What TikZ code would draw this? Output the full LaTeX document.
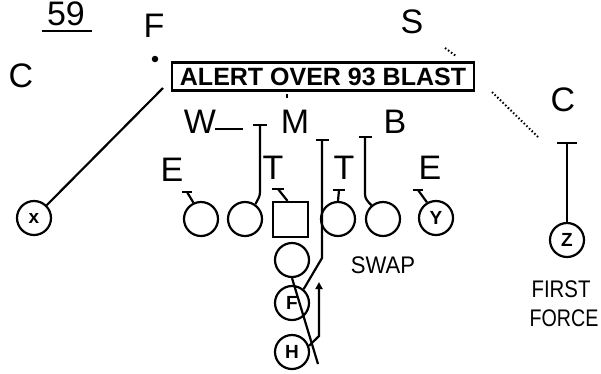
\documentclass[tikz,border=0pt]{standalone}
\usepackage{fontspec}
\setmainfont{Liberation Sans}
\usetikzlibrary{arrows.meta}
\begin{document}
\begin{tikzpicture}[x=1pt,y=-1pt, line width=2.2pt,
  lbl/.style={inner sep=0pt, font=\fontsize{34}{36}\selectfont},
  plr/.style={circle, draw, line width=2.2pt, minimum size=34pt, inner sep=0pt, font=\bfseries\fontsize{19}{20}\selectfont},
  dotline/.style={line width=2pt, dash pattern=on 1.5pt off 2.2pt},
  sm/.style={inner sep=0pt, font=\fontsize{24}{26}\selectfont}]
\useasboundingbox (0,0) rectangle (601,373);
% labels
\node[lbl] (n59) at (66,14) {59};
\draw (42,31) -- (92,31);
\node[lbl] (F) at (154,26) {F};
\node[lbl] (Cl) at (21,76) {C};
\node[lbl] (S) at (412,22) {S};
\node[lbl] (Cr) at (563,100) {C};
\node[lbl] (W) at (200,122) {W};
\node[lbl] (M) at (295,122) {M};
\node[lbl] (B) at (395,122) {B};
\node[lbl] (El) at (172,170) {E};
\node[lbl] (Tl) at (273,168) {T};
\node[lbl] (Tr) at (344,168) {T};
\node[lbl] (Er) at (430,168) {E};
\node[circle, fill, inner sep=0pt, minimum size=6.5pt] (Fdot) at (155,59) {};
% safety dotted
\coordinate (s1) at (445,48); \coordinate (s2) at (456,56);
\coordinate (s3) at (492,92); \coordinate (s4) at (538,137);
\draw[dotline] (s1) -- (s2);
\draw[dotline] (s3) -- (s4);
% call box
\node[draw, line width=2.4pt, fill=white, minimum width=302pt, minimum height=28pt, inner sep=0pt,
  font=\bfseries\fontsize{25}{28}\selectfont] (alert) at (323,76.5) {ALERT OVER 93 BLAST};
\coordinate (mk1) at (287,94); \coordinate (mk2) at (287,98);
\draw[line width=1.5pt] (mk1) -- (mk2);
% players
\node[plr] (X) at (34,218) {x};
\node[plr] (LT) at (201,219) {};
\node[plr] (LG) at (245,219) {};
\node[draw, line width=2.2pt, minimum size=35pt, inner sep=0pt] (Cn) at (290.5,219.5) {};
\node[plr] (RG) at (338,219) {};
\node[plr] (RT) at (383,219) {};
\node[plr] (Y) at (436,218) {Y};
\node[plr] (QB) at (292,260) {};
\node[plr] (FB) at (292,303) {F};
\node[plr] (H) at (292,352) {H};
\node[plr] (Z) at (567,240) {Z};
% routes
\coordinate (xe) at (163,88);
\draw (X) -- (xe);
\coordinate (wd1) at (215,129); \coordinate (wd2) at (243,129);
\draw (wd1) -- (wd2);
\coordinate (lgt) at (260,125);
\draw (LG.55) to[out=65,in=-90] (260,192) -- (lgt);
\draw (lgt) ++(-7,0) -- ++(14,0);
\coordinate (ltm) at (187,192);
\draw (LT.115) -- (ltm);
\draw (ltm) ++(-5,0) -- ++(10,0);
\coordinate (cm) at (278,189);
\draw ([xshift=-3pt]Cn.north) -- (cm);
\draw (cm) ++(-6,0) -- ++(12,0);
\coordinate (rgm) at (339,190);
\draw (RG.north) -- (rgm);
\draw (rgm) ++(-6,0) -- ++(12,0);
\coordinate (ym) at (418,190);
\draw (Y.120) -- (ym);
\draw (ym) ++(-5,0) -- ++(10,0);
\coordinate (rtt) at (365,137);
\draw (RT.130) to[out=135,in=-90] (365,194) -- (rtt);
\draw (rtt) ++(-6.5,0) -- ++(13,0);
\coordinate (fbk) at (322,258); \coordinate (fbt) at (322,140);
\draw (FB.50) -- (fbk) -- (fbt);
\draw (fbt) ++(-6.5,0) -- ++(13,0);
\coordinate (qh) at (318,364);
\draw (QB.south) -- (qh);
\coordinate (hk) at (319,336); \coordinate (ha) at (319,282);
\draw[-{Triangle[length=7pt,width=7pt]}] (H.20) -- (hk) -- (ha);
\coordinate (zt) at (567,143);
\draw (Z.north) -- (zt);
\draw (zt) ++(-10,0) -- ++(20,0);
% texts
\node[sm] (swap) at (383,265) {\scalebox{0.92}[1]{SWAP}};
\node[sm] (first) at (561,289) {\scalebox{0.85}[1]{FIRST}};
\node[sm] (force) at (564,318) {\scalebox{0.82}[1]{FORCE}};
\end{tikzpicture}
\end{document}
